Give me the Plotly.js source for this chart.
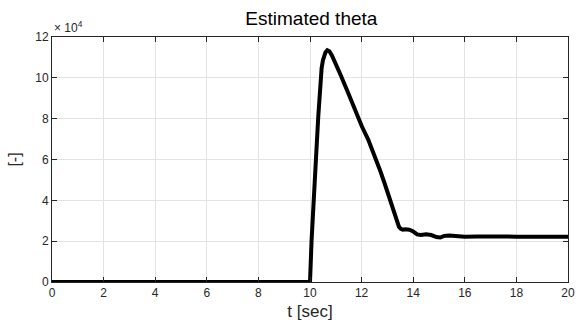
<!DOCTYPE html>
<html><head><meta charset="utf-8">
<script src="https://cdn.plot.ly/plotly-3.0.1.min.js"></script>
<style>html,body{margin:0;padding:0;background:#fff}#chart{width:582px;height:325px}</style>
</head><body><div id="chart"></div>
<script>
const tSec = [0, 10.0, 10.06, 10.16, 10.23, 10.32, 10.39, 10.45, 10.5, 10.55, 10.6, 10.67, 10.75, 10.85, 10.97, 11.2, 11.5, 11.74, 12.0, 12.26, 12.5, 12.71, 12.9, 13.1, 13.25, 13.36, 13.45, 13.52, 13.6, 13.7, 13.85, 14.0, 14.15, 14.3, 14.5, 14.7, 14.9, 15.05, 15.2, 15.4, 15.6, 15.8, 16.0, 16.5, 17.0, 17.5, 18.0, 18.5, 19.0, 19.5, 20.0];
const thetaE4 = [0, 0, 2.0, 4.0, 6.0, 8.1, 9.5, 10.47, 10.85, 11.1, 11.25, 11.35, 11.3, 11.1, 10.79, 10.1, 9.2, 8.42, 7.65, 6.96, 6.2, 5.49, 4.8, 4.02, 3.4, 2.95, 2.7, 2.6, 2.56, 2.58, 2.56, 2.48, 2.33, 2.3, 2.34, 2.3, 2.2, 2.18, 2.26, 2.28, 2.25, 2.22, 2.22, 2.23, 2.21, 2.23, 2.22, 2.23, 2.22, 2.23, 2.22];
const theta = thetaE4.map(v => v * 1e4);
const xTicks = [0, 2, 4, 6, 8, 10, 12, 14, 16, 18, 20];
const yTickVals = [0, 20000, 40000, 60000, 80000, 100000, 120000];
const yTickText = ['0', '2', '4', '6', '8', '10', '12'];

const FONT = 'Liberation Sans, Arial, sans-serif';
const axisCommon = {
  showgrid: true, gridcolor: '#e3e3e3', gridwidth: 1,
  showline: true, linecolor: '#262626', linewidth: 1, mirror: 'ticks',
  ticks: 'inside', ticklen: 5, tickcolor: '#262626',
  tickfont: {family: FONT, size: 12, color: '#262626'},
  zeroline: false
};

Plotly.newPlot('chart', [{
  x: tSec, y: theta, type: 'scatter', mode: 'lines',
  line: {color: '#000', width: 4}
}], {
  width: 582, height: 325,
  margin: {l: 52, r: 14, t: 37, b: 43},
  paper_bgcolor: '#fff', plot_bgcolor: '#fff',
  showlegend: false,
  title: {text: 'Estimated theta', x: 0.535, xanchor: 'center', y: 0.945, yanchor: 'middle',
          font: {family: FONT, size: 19, color: '#000'}},
  xaxis: Object.assign({}, axisCommon, {
    range: [0, 20], tickvals: xTicks,
    title: {text: 't [sec]', standoff: 5, font: {family: FONT, size: 17, color: '#262626'}}
  }),
  yaxis: Object.assign({}, axisCommon, {
    range: [0, 120000], tickvals: yTickVals, ticktext: yTickText,
    title: {text: '[-]', standoff: 10, font: {family: FONT, size: 16, color: '#262626'}}
  }),
  annotations: [{
    xref: 'paper', yref: 'paper', x: 0, y: 1, xanchor: 'left', yanchor: 'bottom', yshift: 0, xshift: 0,
    text: '× 10<sup>4</sup>', showarrow: false,
    font: {family: FONT, size: 12, color: '#262626'}
  }]
}, {displayModeBar: false, staticPlot: true});
</script></body></html>
